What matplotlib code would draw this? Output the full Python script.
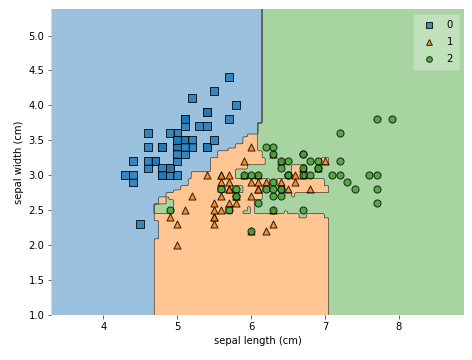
import numpy as np
import matplotlib
matplotlib.use("Agg")
import matplotlib.pyplot as plt

# iris, sepal features only
sepal_length = [
    5.1, 4.9, 4.7, 4.6, 5.0, 5.4, 4.6, 5.0, 4.4, 4.9, 5.4, 4.8, 4.8, 4.3, 5.8, 5.7, 5.4, 5.1, 5.7, 5.1,
    5.4, 5.1, 4.6, 5.1, 4.8, 5.0, 5.0, 5.2, 5.2, 4.7, 4.8, 5.4, 5.2, 5.5, 4.9, 5.0, 5.5, 4.9, 4.4, 5.1,
    5.0, 4.5, 4.4, 5.0, 5.1, 4.8, 5.1, 4.6, 5.3, 5.0,
    7.0, 6.4, 6.9, 5.5, 6.5, 5.7, 6.3, 4.9, 6.6, 5.2, 5.0, 5.9, 6.0, 6.1, 5.6, 6.7, 5.6, 5.8, 6.2, 5.6,
    5.9, 6.1, 6.3, 6.1, 6.4, 6.6, 6.8, 6.7, 6.0, 5.7, 5.5, 5.5, 5.8, 6.0, 5.4, 6.0, 6.7, 6.3, 5.6, 5.5,
    5.5, 6.1, 5.8, 5.0, 5.6, 5.7, 5.7, 6.2, 5.1, 5.7,
    6.3, 5.8, 7.1, 6.3, 6.5, 7.6, 4.9, 7.3, 6.7, 7.2, 6.5, 6.4, 6.8, 5.7, 5.8, 6.4, 6.5, 7.7, 7.7, 6.0,
    6.9, 5.6, 7.7, 6.3, 6.7, 7.2, 6.2, 6.1, 6.4, 7.2, 7.4, 7.9, 6.4, 6.3, 6.1, 7.7, 6.3, 6.4, 6.0, 6.9,
    6.7, 6.9, 5.8, 6.8, 6.7, 6.7, 6.3, 6.5, 6.2, 5.9,
]
sepal_width = [
    3.5, 3.0, 3.2, 3.1, 3.6, 3.9, 3.4, 3.4, 2.9, 3.1, 3.7, 3.4, 3.0, 3.0, 4.0, 4.4, 3.9, 3.5, 3.8, 3.8,
    3.4, 3.7, 3.6, 3.3, 3.4, 3.0, 3.4, 3.5, 3.4, 3.2, 3.1, 3.4, 4.1, 4.2, 3.1, 3.2, 3.5, 3.6, 3.0, 3.4,
    3.5, 2.3, 3.2, 3.5, 3.8, 3.0, 3.8, 3.2, 3.7, 3.3,
    3.2, 3.2, 3.1, 2.3, 2.8, 2.8, 3.3, 2.4, 2.9, 2.7, 2.0, 3.0, 2.2, 2.9, 2.9, 3.1, 3.0, 2.7, 2.2, 2.5,
    3.2, 2.8, 2.5, 2.8, 2.9, 3.0, 2.8, 3.0, 2.9, 2.6, 2.4, 2.4, 2.7, 2.7, 3.0, 3.4, 3.1, 2.3, 3.0, 2.5,
    2.6, 3.0, 2.6, 2.3, 2.7, 3.0, 2.9, 2.9, 2.5, 2.8,
    3.3, 2.7, 3.0, 2.9, 3.0, 3.0, 2.5, 2.9, 2.5, 3.6, 3.2, 2.7, 3.0, 2.5, 2.8, 3.2, 3.0, 3.8, 2.6, 2.2,
    3.2, 2.8, 2.8, 2.7, 3.3, 3.2, 2.8, 3.0, 2.8, 3.0, 2.8, 3.8, 2.8, 2.8, 2.6, 3.0, 3.4, 3.1, 3.0, 3.1,
    3.1, 3.1, 2.7, 3.2, 3.3, 3.0, 2.5, 3.0, 3.4, 3.0,
]
species = [0] * 50 + [1] * 50 + [2] * 50
class_labels = ["0", "1", "2"]
colors = ["#1f77b4", "#ff7f0e", "#3ca02c"]
markers = ["s", "^", "o"]

X = np.column_stack([sepal_length, sepal_width])
y = np.array(species)


# small random forest (fully grown gini trees, one random feature per split)
def best_split(Xs, ys, f):
    order = np.argsort(Xs[:, f], kind="mergesort")
    v = Xs[order, f]
    c = np.eye(3)[ys[order]]
    left = np.cumsum(c, axis=0)[:-1]
    right = c.sum(0) - left
    nl = np.arange(1, len(v))
    nr = len(v) - nl
    gl = 1 - ((left / nl[:, None]) ** 2).sum(1)
    gr = 1 - ((right / nr[:, None]) ** 2).sum(1)
    score = nl * gl + nr * gr
    valid = v[1:] > v[:-1]
    if not valid.any():
        return None
    score[~valid] = np.inf
    i = np.argmin(score)
    return (v[i] + v[i + 1]) / 2


def grow(Xs, ys, rng):
    counts = np.bincount(ys, minlength=3).astype(float)
    if np.count_nonzero(counts) == 1:
        return counts / counts.sum()
    for f in rng.permutation(2):
        thr = best_split(Xs, ys, f)
        if thr is not None:
            m = Xs[:, f] <= thr
            return (f, thr, grow(Xs[m], ys[m], rng), grow(Xs[~m], ys[~m], rng))
    return counts / counts.sum()


def predict(node, P):
    if isinstance(node, np.ndarray):
        return np.tile(node, (len(P), 1))
    f, thr, l, r = node
    out = np.empty((len(P), 3))
    m = P[:, f] <= thr
    out[m] = predict(l, P[m])
    out[~m] = predict(r, P[~m])
    return out


res = 0.02
x_min, x_max = X[:, 0].min() - 1, X[:, 0].max() + 1
y_min, y_max = X[:, 1].min() - 1, X[:, 1].max() + 1
xx, yy = np.meshgrid(np.arange(x_min, x_max, res), np.arange(y_min, y_max, res))
grid = np.column_stack([xx.ravel(), yy.ravel()])

rng = np.random.default_rng(6)
proba = 0
for _ in range(300):
    b = rng.integers(0, len(y), len(y))
    proba = proba + predict(grow(X[b], y[b], rng), grid)
Z = proba.argmax(1).reshape(xx.shape)

fig = plt.figure(figsize=(472 / 72, 360 / 72), dpi=72)
ax = fig.add_axes([0.109, 0.125, 0.874, 0.85])

levels = np.arange(4) - 0.5
ax.contourf(xx, yy, Z, levels=levels, colors=colors, alpha=0.45, antialiased=True)
ax.contour(xx, yy, Z, levels=levels, colors="k", linewidths=0.5, antialiased=True)

for k in range(3):
    sel = y == k
    ax.scatter(X[sel, 0], X[sel, 1], c=colors[k], marker=markers[k], s=50,
               edgecolor="black", alpha=0.8, label=class_labels[k])

ax.set_xlim(xx.min(), xx.max())
ax.set_ylim(yy.min(), yy.max())
for sp in ax.spines.values():
    sp.set_visible(False)
ax.tick_params(labelsize=10, color="#444444")
ax.set_xlabel("sepal length (cm)", fontsize=10)
ax.set_ylabel("sepal width (cm)", fontsize=10)
ax.legend(loc="upper right", framealpha=0.3, markerscale=0.8, scatterpoints=1,
          fontsize=10, labelspacing=0.7, borderpad=0.6)

fig.savefig("out.png", dpi=72)
